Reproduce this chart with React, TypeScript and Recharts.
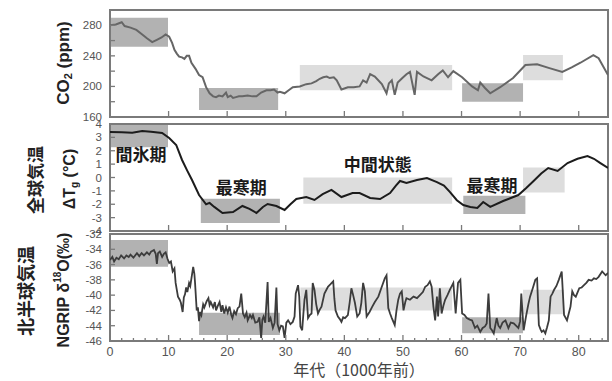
import { LineChart, Line, XAxis, YAxis, ReferenceArea, ReferenceDot } from "recharts";

// age in 1000 years BP, value
const co2Series: [number, number][] = [
  [0, 280], [1, 281], [2, 284], [2.5, 279], [3.5, 277], [4.5, 274], [5.5, 268], [6.3, 263], [7.2, 258], [8, 261],
  [8.8, 264], [9.5, 268], [10.1, 265], [10.6, 257], [11, 248], [11.4, 243], [11.8, 239], [12.3, 238], [12.7, 236],
  [13.1, 240], [13.5, 240], [13.9, 231], [14.6, 223], [15.2, 215], [15.8, 212], [16.4, 199], [17, 191], [17.6, 187],
  [18.1, 186], [18.6, 188], [19.2, 187], [19.8, 192], [20.1, 186], [20.6, 188], [21, 185], [21.5, 186], [22, 187],
  [22.6, 187], [23.5, 188], [24.3, 187], [25, 187], [25.8, 192], [26.7, 195], [27.4, 195], [28, 196], [28.6, 192],
  [29, 193], [29.8, 191], [30.5, 195], [31.2, 199], [32.4, 200], [33.5, 203], [34.4, 204], [35.2, 207], [35.8, 210],
  [36.4, 212], [37, 213], [37.5, 211], [38.2, 212], [38.7, 208], [39.5, 196], [40.6, 199], [41.6, 199], [42.6, 200],
  [43.2, 208], [43.8, 205], [44.4, 216], [45.2, 213], [46.4, 203], [47.2, 191], [47.6, 204], [48.1, 208], [48.6, 189],
  [49.1, 205], [49.9, 211], [50.6, 216], [51.2, 219], [52, 189], [52.4, 219], [53.5, 213], [54.9, 208], [56, 216],
  [56.8, 221], [57.7, 212], [58.6, 220], [60.1, 212], [61.8, 200], [62.8, 195], [63.2, 205], [64, 198], [64.9, 191],
  [66.6, 199], [68.8, 211], [70.9, 228], [72.9, 229], [75, 224], [77.2, 219], [78.8, 225], [80.3, 231], [82.5, 241],
  [83.4, 237], [85, 215],
];

const tempSeries: [number, number][] = [
  [0, 3.4], [2, 3.38], [3.8, 3.35], [5.5, 3.48], [7, 3.42], [8.9, 3.33], [10.1, 2.95], [11.3, 2.43], [12.3, 1.31],
  [13.2, 0.5], [14, -0.19], [15.2, -1.31], [16.4, -2.0], [17, -1.9], [17.8, -2.2], [19.2, -2.65], [21, -2.58],
  [22.6, -2.13], [23.8, -2.35], [25, -2.65], [26.1, -2.2], [26.9, -1.98], [28.4, -2.13], [29.8, -2.43], [30.8, -2.0],
  [31.8, -1.61], [33.5, -1.46], [34.9, -1.68], [36.3, -1.25], [37.8, -0.93], [39.5, -1.46], [41.4, -1.16],
  [42.6, -1.16], [44.4, -1.53], [46.1, -1.61], [47.8, -1.16], [48.8, -0.6], [49.5, -0.26], [50.6, -0.41],
  [52.4, -0.19], [54.1, -0.04], [55.8, -0.34], [57, -0.6], [58, -1.08], [59.2, -1.7], [60.3, -2.06], [61.5, -2.2],
  [62.7, -2.28], [63.7, -1.83], [64.9, -2.2], [67.1, -1.76], [69.7, -1.31], [71, -0.8], [72.3, -0.26], [73.6, 0.3],
  [74.8, 0.71], [76.4, 0.49], [78.1, 1.08], [79.8, 1.4], [81.5, 1.61], [82.6, 1.4], [83.7, 1.08], [85, 0.71],
];

const ngripSeries: [number, number][] = [
  [0, -35.4], [0.4, -35.0], [0.7, -35.6], [1.1, -35.1], [1.5, -35.3], [1.9, -34.8], [2.4, -35.2], [2.8, -34.8],
  [3.2, -35.0], [3.5, -34.7], [4.0, -35.1], [4.6, -34.5], [5.0, -34.9], [5.4, -34.5], [5.8, -34.8], [6.3, -34.4],
  [6.7, -34.7], [7.0, -34.3], [7.5, -34.1], [7.8, -34.6], [8.0, -35.9], [8.2, -34.5], [8.5, -34.3], [8.9, -35.0],
  [9.2, -34.6], [9.5, -34.4], [9.8, -35.2], [10.1, -35.8], [10.4, -35.6], [10.7, -36.9], [11.0, -36.5],
  [11.2, -38.4], [11.6, -40.2], [11.9, -40.6], [12.1, -41.0], [12.4, -42.2], [12.6, -40.3], [12.8, -39.9],
  [13.0, -39.0], [13.2, -39.6], [13.5, -38.4], [13.7, -38.8], [13.9, -37.8], [14.2, -36.3], [14.4, -37.2],
  [14.5, -38.2], [14.8, -42.0], [15.0, -41.6], [15.2, -43.4], [15.4, -42.2], [15.6, -42.6], [15.9, -41.2],
  [16.1, -41.6], [16.5, -40.8], [16.8, -40.4], [17.0, -41.3], [17.2, -40.9], [17.6, -41.6], [17.9, -40.9],
  [18.1, -42.0], [18.4, -41.4], [18.7, -40.9], [19.0, -42.2], [19.2, -41.3], [19.5, -42.4], [19.8, -41.6],
  [20.1, -42.3], [20.4, -41.5], [20.7, -42.6], [20.9, -43.0], [21.2, -42.1], [21.5, -42.5], [21.8, -41.7],
  [22.1, -41.5], [22.4, -39.8], [22.7, -42.4], [23.0, -42.9], [23.3, -42.3], [23.5, -43.3], [23.9, -42.6],
  [24.2, -43.0], [24.4, -42.6], [24.8, -43.6], [25.2, -43.5], [25.5, -42.9], [25.8, -45.6], [26.0, -43.2],
  [26.2, -42.8], [26.5, -43.6], [26.9, -38.3], [27.1, -43.5], [27.4, -43.0], [27.8, -44.3], [28.1, -43.6],
  [28.4, -39.0], [28.6, -43.8], [28.9, -44.6], [29.2, -44.0], [29.5, -44.1], [29.8, -45.6], [30.1, -43.6],
  [30.4, -43.3], [30.8, -43.8], [31.2, -43.5], [31.5, -42.8], [31.7, -39.8], [32.1, -38.7], [32.3, -40.2],
  [32.5, -44.1], [32.8, -44.6], [33.0, -42.5], [33.2, -40.6], [33.5, -39.3], [33.8, -43.0], [34.1, -42.6],
  [34.4, -42.4], [34.6, -38.4], [34.9, -39.3], [35.2, -41.2], [35.5, -42.4], [35.8, -41.9], [36.1, -41.5],
  [36.6, -39.8], [37.2, -38.9], [37.6, -38.6], [38.1, -38.2], [38.3, -40.5], [38.5, -42.0], [38.9, -42.8],
  [39.2, -43.1], [39.5, -43.5], [39.8, -42.9], [40.1, -43.0], [40.6, -42.6], [40.9, -41.0], [41.2, -39.1],
  [41.5, -40.0], [41.8, -41.0], [42.2, -42.8], [42.6, -42.4], [42.9, -41.0], [43.2, -38.4], [43.5, -39.5],
  [43.8, -42.8], [44.3, -42.2], [44.7, -41.6], [45.2, -40.9], [45.8, -40.2], [46.3, -39.1], [46.9, -37.8],
  [47.2, -37.4], [47.5, -41.7], [47.8, -42.4], [48.1, -43.0], [48.6, -43.9], [48.9, -42.0], [49.2, -40.6],
  [49.5, -39.8], [49.8, -39.5], [50.1, -42.0], [50.4, -40.9], [50.6, -40.4], [51.2, -40.6], [51.8, -40.2],
  [52.4, -40.4], [52.9, -40.0], [53.4, -39.6], [53.8, -38.9], [54.2, -38.7], [54.6, -38.2], [54.9, -38.9],
  [55.2, -41.5], [55.5, -43.3], [55.8, -40.2], [56.0, -42.8], [56.3, -39.1], [56.6, -42.4], [56.9, -41.4],
  [57.2, -40.6], [57.6, -40.0], [58.0, -39.3], [58.6, -38.4], [59.0, -42.4], [59.4, -38.4], [59.8, -38.0],
  [60.1, -42.4], [60.5, -42.6], [60.9, -43.0], [61.4, -43.2], [61.8, -43.3], [62.3, -44.3], [62.7, -44.0],
  [63.2, -44.8], [63.6, -44.3], [64.0, -44.1], [64.3, -43.7], [64.6, -39.8], [64.9, -44.3], [65.2, -44.6],
  [65.5, -45.0], [66.0, -43.0], [66.3, -44.0], [66.6, -44.3], [67.0, -43.6], [67.5, -43.3], [68.0, -44.3],
  [68.4, -43.6], [68.9, -43.7], [69.3, -44.0], [69.7, -44.3], [70.0, -43.4], [70.2, -39.8], [70.6, -44.6],
  [71.0, -42.8], [71.4, -41.2], [71.7, -40.2], [72.2, -39.0], [72.6, -38.0], [72.9, -37.8], [73.2, -43.9],
  [73.5, -44.5], [73.7, -44.8], [74.0, -44.6], [74.3, -45.0], [74.6, -44.2], [74.9, -43.3], [75.2, -40.2],
  [75.5, -39.8], [75.8, -39.3], [76.2, -38.8], [76.6, -38.0], [77.1, -36.9], [77.5, -42.6], [78.0, -43.3],
  [78.3, -42.4], [78.6, -41.5], [78.9, -39.5], [79.2, -40.0], [79.5, -40.2], [80.1, -39.1], [80.5, -39.0],
  [80.9, -38.7], [81.3, -38.4], [81.7, -38.0], [82.2, -38.1], [82.6, -37.8], [83.0, -37.9], [83.4, -37.6],
  [84.0, -36.9], [84.6, -37.4], [85.0, -37.1],
];

// shaded periods: [age from, age to, low, high, kind]
type Box = [number, number, number, number, "dark" | "light"];
const co2Boxes: Box[] = [
  [0, 9.9, 252, 290, "dark"], [15.2, 28.7, 169, 198, "dark"], [32.4, 58.4, 195, 228, "light"],
  [60.1, 70.5, 180, 204, "dark"], [70.5, 77.3, 208, 241, "light"],
];
const tempBoxes: Box[] = [
  [0, 9.9, 2.26, 4, "dark"], [15.5, 29, -3.4, -1.58, "dark"], [33, 58.4, -1.96, 0, "light"],
  [60.3, 70.9, -2.72, -1.36, "dark"], [70.5, 77.6, -1.13, 0.75, "light"],
];
const ngripBoxes: Box[] = [
  [0, 9.9, -36.3, -32.8, "dark"], [15.2, 29, -45.2, -42.3, "dark"], [32.5, 58.4, -42, -39, "light"],
  [60.1, 70.5, -45, -42.9, "dark"], [70.5, 77.5, -42.5, -39.3, "light"],
];

const periodLabels: [number, number, string][] = [
  [5.3, 1.7, "間氷期"], [22.4, -0.75, "最寒期"], [45.7, 0.9, "中間状態"], [65.2, -0.6, "最寒期"],
];

const co2Ticks = [160, 180, 200, 220, 240, 260, 280];
const tempTicks = [-4, -3, -2, -1, 0, 1, 2, 3, 4];
const ngripTicks = [-46, -44, -42, -40, -38, -36, -34, -32];
const decadeTicks = [10, 20, 30, 40, 50, 60, 70, 80];
const ageTicks = [
  0, 2, 4, 6, 8, 10, 12, 14, 16, 18, 20, 22, 24, 26, 28, 30, 32, 34, 36, 38, 40, 42,
  44, 46, 48, 50, 52, 54, 56, 58, 60, 62, 64, 66, 68, 70, 72, 74, 76, 78, 80, 82, 84,
];

const W = 612;
const H = 381;
const XH = 20;
const NUM = '"Liberation Sans", Arial, sans-serif';
const JP = '"Noto Sans CJK JP", "Noto Sans CJK SC", sans-serif';
const AXIS = "#7a7a7a";
const FILL = { dark: "#b2b2b2", light: "#dddddd" };

const toRows = (s: [number, number][]) => s.map(([t, v]) => ({ t, v }));

const yTick = (labelStep: number) => (p: any) => {
  const v = p.payload.value;
  const show = Math.abs(v % labelStep) < 1e-9;
  return (
    <g>
      <line x1={p.x} x2={p.x + 5} y1={p.y} y2={p.y} stroke={AXIS} strokeWidth={1.3} />
      {show && (
        <text x={p.x - 8} y={p.y + 4} textAnchor="end" fontSize={11.5} fill="#555" fontFamily={NUM}>
          {v}
        </text>
      )}
    </g>
  );
};

const xTick = (labels: boolean) => (p: any) => {
  const v = p.payload.value;
  const major = v % 10 === 0;
  return (
    <g>
      <line x1={p.x} x2={p.x} y1={p.y} y2={p.y - (major ? 6 : 3)} stroke={AXIS} strokeWidth={1.3} />
      {labels && major && (
        <text x={p.x} y={p.y + 15} textAnchor="middle" fontSize={12.5} fill="#555" fontFamily={NUM}>
          {v}
        </text>
      )}
    </g>
  );
};

function Panel(props: {
  top: number;
  bottom: number;
  data: [number, number][];
  boxes: Box[];
  domain: [number, number];
  yTicks: number[];
  labelStep: number;
  xTicks: number[];
  xLabels: boolean;
  stroke: string;
  width: number;
  children?: any;
}) {
  const [lo, hi] = props.domain;
  return (
    <div style={{ position: "absolute", left: 0, top: 0 }}>
      <LineChart
        width={W}
        height={H}
        data={toRows(props.data)}
        margin={{ top: props.top, bottom: H - props.bottom - XH, left: 0, right: 4 }}
      >
        <XAxis
          dataKey="t"
          type="number"
          domain={[0, 85]}
          ticks={props.xTicks}
          interval={0}
          height={XH}
          tickSize={0}
          tickMargin={0}
          axisLine={false}
          tickLine={false}
          tick={xTick(props.xLabels)}
          allowDataOverflow
        />
        <YAxis
          type="number"
          domain={[lo, hi]}
          ticks={props.yTicks}
          interval={0}
          width={110}
          tickSize={0}
          tickMargin={0}
          axisLine={false}
          tickLine={false}
          tick={yTick(props.labelStep)}
          allowDataOverflow
        />
        {props.boxes.map(([a, b, y1, y2, kind], i) => (
          <ReferenceArea key={i} x1={a} x2={b} y1={y1} y2={y2} fill={FILL[kind]} fillOpacity={1} stroke="none" />
        ))}
        <Line
          type="linear"
          dataKey="v"
          stroke={props.stroke}
          strokeWidth={props.width}
          dot={false}
          isAnimationActive={false}
        />
        <ReferenceArea x1={0} x2={85} y1={lo} y2={hi} fill="none" stroke={AXIS} strokeWidth={2} />
        {props.children}
      </LineChart>
    </div>
  );
}

export default function App() {
  return (
    <div style={{ position: "absolute", left: 0, top: 0, width: W, height: H, background: "#fff" }}>
      <Panel top={10} bottom={117} data={co2Series} boxes={co2Boxes} domain={[160, 300]} yTicks={co2Ticks}
        labelStep={40} xTicks={decadeTicks} xLabels={false} stroke="#666" width={2} />
      <Panel top={124} bottom={231} data={tempSeries} boxes={tempBoxes} domain={[-4, 4]} yTicks={tempTicks}
        labelStep={1} xTicks={decadeTicks} xLabels={false} stroke="#1c1c1c" width={2}>
        {periodLabels.map(([t, v, text], i) => (
          <ReferenceDot key={i} x={t} y={v} r={0} fill="none" stroke="none"
            label={{ value: text, position: "center", fill: "#1a1a1a", fontSize: 17, fontWeight: "bold", fontFamily: JP }} />
        ))}
      </Panel>
      <Panel top={234} bottom={341} data={ngripSeries} boxes={ngripBoxes} domain={[-46, -32]} yTicks={ngripTicks}
        labelStep={2} xTicks={ageTicks} xLabels={true} stroke="#3c3c3c" width={1.8} />
      <svg width={W} height={H} style={{ position: "absolute", left: 0, top: 0, pointerEvents: "none" }}>
        <g fontFamily={NUM} fontWeight="bold" fontSize={17} fill="#222">
          <text transform="translate(63,63) rotate(-90)" textAnchor="middle" dominantBaseline="central">
            CO<tspan fontSize={11} dy={5}>2</tspan><tspan dy={-5}> (ppm)</tspan>
          </text>
          <text transform="translate(69,179) rotate(-90)" textAnchor="middle" dominantBaseline="central" fontSize={16}>
            ΔT<tspan fontSize={10} dy={5}>g</tspan><tspan dy={-5}> (°C)</tspan>
          </text>
          <text transform="translate(63,290) rotate(-90)" textAnchor="middle" dominantBaseline="central" fontSize={16}>
            NGRIP δ<tspan fontSize={10} dy={-6}>18</tspan><tspan dy={6}>O(‰)</tspan>
          </text>
        </g>
        <g fontFamily={JP} fontWeight="bold" fill="#222">
          <text transform="translate(34,180) rotate(-90)" textAnchor="middle" dominantBaseline="central" fontSize={17}>
            全球気温
          </text>
          <text transform="translate(25,291) rotate(-90)" textAnchor="middle" dominantBaseline="central" fontSize={18}>
            北半球気温
          </text>
        </g>
        <text x={359} y={376} textAnchor="middle" fontFamily={JP} fontSize={16} fill="#444">
          年代（1000年前）
        </text>
      </svg>
    </div>
  );
}
